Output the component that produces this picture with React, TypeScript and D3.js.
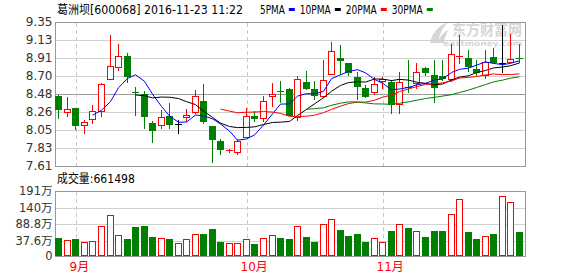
import React from "react";
import * as d3 from "d3";

// 葛洲坝 daily K-line, 2016-08-30 .. 2016-11-23
const STOCK_NAME = "葛洲坝";
const STOCK_CODE = "600068";
const TIMESTAMP = "2016-11-23 11:22";

const OPEN = [
  8.46, 8.26, 8.31, 8.10, 8.18, 8.28, 8.66, 8.81, 8.94, 8.51,
  8.48, 8.13, 8.10, 8.21, 8.12, 8.20, 8.26, 8.40, 8.09, 7.91,
  7.79, 7.78, 7.96, 8.22, 8.19, 8.46, 8.52, 8.54, 8.20, 8.63,
  8.54, 8.46, 8.72, 8.92, 8.86, 8.69, 8.55, 8.51, 8.64, 8.62,
  8.36, 8.57, 8.61, 8.80, 8.71, 8.70, 8.66, 8.93, 8.92, 8.78,
  8.71, 8.93, 8.86, 8.87, 8.92,
];
const HIGH = [
  8.47, 8.44, 8.31, 8.17, 8.35, 8.61, 9.19, 9.08, 8.98, 8.57,
  8.52, 8.15, 8.29, 8.37, 8.16, 8.30, 8.53, 8.60, 8.09, 7.94,
  7.81, 7.94, 8.31, 8.28, 8.45, 8.61, 8.64, 8.55, 8.70, 8.76,
  8.64, 8.89, 9.11, 9.07, 8.86, 8.75, 8.59, 8.68, 8.68, 8.65,
  8.74, 8.89, 8.85, 8.81, 8.89, 8.89, 9.08, 9.19, 9.01, 8.89,
  9.01, 9.04, 9.31, 9.21, 9.08,
];
const LOW = [
  8.19, 8.21, 8.06, 8.01, 8.13, 8.21, 8.66, 8.77, 8.62, 8.23,
  8.07, 7.90, 8.07, 8.07, 8.01, 8.15, 8.25, 8.13, 7.66, 7.75,
  7.78, 7.76, 7.96, 8.15, 8.15, 8.34, 8.38, 8.23, 8.17, 8.54,
  8.42, 8.44, 8.72, 8.72, 8.71, 8.42, 8.44, 8.48, 8.55, 8.25,
  8.25, 8.51, 8.55, 8.71, 8.38, 8.65, 8.64, 8.85, 8.76, 8.71,
  8.67, 8.86, 8.74, 8.87, 8.87,
];
const CLOSE = [
  8.30, 8.30, 8.10, 8.14, 8.28, 8.60, 8.82, 8.94, 8.70, 8.50,
  8.21, 8.04, 8.20, 8.12, 8.12, 8.23, 8.46, 8.15, 7.94, 7.81,
  7.80, 7.91, 8.22, 8.19, 8.40, 8.48, 8.50, 8.23, 8.66, 8.55,
  8.47, 8.65, 9.00, 8.89, 8.75, 8.58, 8.46, 8.60, 8.66, 8.36,
  8.62, 8.56, 8.75, 8.75, 8.57, 8.67, 8.96, 8.94, 8.82, 8.75,
  8.87, 8.87, 8.86, 8.90, 8.91,
];
// volume in 万股
const VOLUME = [
  46.7, 39.6, 43.6, 34.4, 37.5, 82.6, 116.4, 55.0, 43.6, 80.5,
  83.6, 49.8, 45.8, 43.6, 31.3, 42.7, 58.1, 59.0, 74.3, 35.3,
  30.4, 30.4, 42.7, 28.3, 45.8, 55.0, 46.7, 43.6, 82.6, 49.8,
  35.3, 88.8, 104.1, 71.3, 52.8, 59.0, 35.3, 45.8, 34.4, 68.2,
  88.8, 77.4, 67.3, 49.8, 68.2, 68.2, 119.5, 165.6, 65.1, 43.6,
  51.9, 59.0, 174.8, 156.4, 66.1498,
];

const MONTH_LABELS = ["9月", "10月", "11月"];
const MONTH_START = [2, 22, 38];

const PRICE_TICKS = [9.35, 9.1325, 8.915, 8.6975, 8.48, 8.2625, 8.045, 7.8275, 7.61];
const PRICE_TICK_LABELS = ["9.35", "9.13", "8.91", "8.70", "8.48", "8.26", "8.05", "7.83", "7.61"];
const VOLUME_TICKS = [191.2, 140, 88.8, 37.6];
const VOLUME_TICK_LABELS = ["191万", "140万", "88.8万", "37.6万"];

const MA_PERIODS = [5, 10, 20, 30];
const MA_LABELS = ["5PMA", "10PMA", "20PMA", "30PMA"];
const MA_COLORS = ["#0000ff", "#000000", "#ff0000", "#008000"];

const W = 578;
const H = 276;
const LEFT = 55;
const RIGHT = 525;
const PRICE_TOP = 22;
const PRICE_BOTTOM = 166;
const VOL_TOP = 191;
const VOL_BOTTOM = 256;
const VOL_ZERO = 253.2;

const UP = "#ff0000";
const DOWN = "#008000";
const GRID = "#d0d0d0";
const FRAME = "#999999";
const FONT = "'DejaVu Sans', 'Noto Sans CJK SC', sans-serif";

function movingAverage(values: number[], period: number): (number | null)[] {
  return values.map((_, i) =>
    i < period - 1 ? null : (d3.mean(values.slice(i - period + 1, i + 1)) as number)
  );
}

export default function App() {
  const n = CLOSE.length;
  const idx = d3.range(n);

  const x = d3.scaleBand<number>().domain(idx).range([54.5, 523.5]).paddingInner(0.2).paddingOuter(0.1);
  const yPrice = d3.scaleLinear().domain([7.61, 9.35]).range([PRICE_BOTTOM, PRICE_TOP]);
  const yVol = d3.scaleLinear().domain([0, 191.2]).range([VOL_ZERO, VOL_TOP]);

  const left = (i: number) => Math.round(x(i) as number);
  const cx = (i: number) => left(i) + 3.5;
  const BW = 7;

  const crisp = (v: number) => Math.round(v) + 0.5;

  const maLines = MA_PERIODS.map((p) => {
    const ma = movingAverage(CLOSE, p);
    const line = d3
      .line<number>()
      .defined((i) => ma[i] != null)
      .x((i) => cx(i))
      .y((i) => yPrice(ma[i] as number));
    return line(idx) || "";
  });

  // legend layout
  const legendItems: { label: string; color: string; tx: number; sx: number }[] = [];
  let lx = 260;
  MA_LABELS.forEach((label, k) => {
    const tw = label.length * 6.2;
    legendItems.push({ label, color: MA_COLORS[k], tx: lx, sx: lx + tw + 4 });
    lx = lx + tw + 4 + 6 + 5;
  });

  const lastVolume = Math.round(VOLUME[n - 1] * 10000);

  return (
    <svg
      width={W}
      height={H}
      viewBox={`0 0 ${W} ${H}`}
      style={{ position: "absolute", left: 0, top: 0, display: "block", background: "#fff" }}
      fontFamily={FONT}
    >
      <rect x={0} y={0} width={W} height={H} fill="#fff" />

      {/* watermark */}
      <g fill="#d6d6d6">
        <path d="M430,43 C432,33 438,26 448,22 C442,29 439,35 438,43 Z" />
        <path d="M437,43 C440,36 444,32 449,29 C446,34 444,39 444,43 Z" />
        <text x={452} y={35} fontSize={14.5} fontWeight="bold" textLength={70} lengthAdjust="spacingAndGlyphs">
          东方财富网
        </text>
        <text x={443} y={46} fontSize={7.5} fontWeight="bold" textLength={79} lengthAdjust="spacingAndGlyphs">
          eastmoney.com
        </text>
      </g>

      {/* title and legend */}
      <text x={57} y={14} fontSize={12} fill="#000" textLength={186} lengthAdjust="spacingAndGlyphs">
        {`${STOCK_NAME}[${STOCK_CODE}] ${TIMESTAMP}`}
      </text>
      {legendItems.map((it) => (
        <g key={it.label}>
          <text x={it.tx} y={14} fontSize={12} fill="#000" textLength={it.label.length * 6.2} lengthAdjust="spacingAndGlyphs">
            {it.label}
          </text>
          <rect x={it.sx} y={8} width={6} height={3} fill={it.color} />
        </g>
      ))}

      {/* price grid */}
      {PRICE_TICKS.map((t, k) => {
        const y = crisp(yPrice(t));
        const isEdge = k === 0 || k === PRICE_TICKS.length - 1;
        const isMid = k === 4;
        return (
          <line
            key={`pg${k}`}
            x1={LEFT}
            x2={RIGHT}
            y1={y}
            y2={y}
            stroke={isEdge || isMid ? FRAME : GRID}
            strokeWidth={1}
          />
        );
      })}
      {PRICE_TICKS.map((t, k) => (
        <text
          key={`pl${k}`}
          x={52.5}
          y={yPrice(t)}
          dy="0.36em"
          textAnchor="end"
          fontSize={12}
          fill="#333"
        >
          {PRICE_TICK_LABELS[k]}
        </text>
      ))}

      {/* volume grid */}
      {VOLUME_TICKS.map((t, k) => (
        <line
          key={`vg${k}`}
          x1={LEFT}
          x2={RIGHT}
          y1={crisp(yVol(t))}
          y2={crisp(yVol(t))}
          stroke={k === 0 ? FRAME : GRID}
        />
      ))}
      <line x1={LEFT} x2={RIGHT} y1={VOL_BOTTOM + 0.5} y2={VOL_BOTTOM + 0.5} stroke={FRAME} />
      {VOLUME_TICKS.map((t, k) => (
        <text key={`vl${k}`} x={52.5} y={yVol(t)} dy="0.36em" textAnchor="end" fontSize={11.5} fill="#333">
          {VOLUME_TICK_LABELS[k]}
        </text>
      ))}
      <text x={52.5} y={VOL_BOTTOM} dy="0.36em" textAnchor="end" fontSize={11.5} fill="#333">
        0
      </text>

      {/* month separators */}
      {MONTH_START.map((i, k) => (
        <g key={`m${k}`} stroke="#c8c8c8" strokeDasharray="4,3">
          <line x1={crisp(cx(i))} x2={crisp(cx(i))} y1={PRICE_TOP + 1} y2={PRICE_BOTTOM} />
          <line x1={crisp(cx(i))} x2={crisp(cx(i))} y1={VOL_TOP + 1} y2={VOL_BOTTOM} />
        </g>
      ))}
      {MONTH_START.map((i, k) => (
        <text key={`ml${k}`} x={cx(i) - 6} y={271} fontSize={12} fill="#ff0000">
          {MONTH_LABELS[k]}
        </text>
      ))}

      {/* frames */}
      <line x1={LEFT + 0.5} x2={LEFT + 0.5} y1={PRICE_TOP} y2={PRICE_BOTTOM + 1} stroke={FRAME} />
      <line x1={RIGHT + 0.5} x2={RIGHT + 0.5} y1={PRICE_TOP} y2={PRICE_BOTTOM + 1} stroke={FRAME} />
      <line x1={LEFT + 0.5} x2={LEFT + 0.5} y1={VOL_TOP} y2={VOL_BOTTOM + 1} stroke={FRAME} />
      <line x1={RIGHT + 0.5} x2={RIGHT + 0.5} y1={VOL_TOP} y2={VOL_BOTTOM + 1} stroke={FRAME} />

      {/* candles */}
      {idx.map((i) => {
        const o = OPEN[i];
        const c = CLOSE[i];
        const color = c > o ? UP : c < o ? DOWN : "#000";
        const xl = left(i);
        const wx = xl + 3.5;
        const yHi = Math.round(yPrice(HIGH[i]));
        const yLo = Math.round(yPrice(LOW[i]));
        const yTop = Math.round(yPrice(Math.max(o, c)));
        const yBot = Math.round(yPrice(Math.min(o, c)));
        const wick = <line x1={wx} x2={wx} y1={yHi} y2={yLo + 1} stroke={color} />;
        if (c === o || yBot - yTop < 2) {
          return (
            <g key={`c${i}`}>
              {wick}
              <line x1={xl} x2={xl + BW} y1={yTop + 0.5} y2={yTop + 0.5} stroke={color} />
            </g>
          );
        }
        if (c > o) {
          return (
            <g key={`c${i}`}>
              {wick}
              <rect x={xl + 0.5} y={yTop + 0.5} width={BW - 1} height={yBot - yTop} fill="#fff" stroke={UP} />
            </g>
          );
        }
        return (
          <g key={`c${i}`}>
            {wick}
            <rect x={xl} y={yTop} width={BW} height={yBot - yTop + 1} fill={DOWN} />
          </g>
        );
      })}

      {/* moving averages */}
      {maLines.map((d, k) => (
        <path key={`ma${k}`} d={d} fill="none" stroke={MA_COLORS[k]} strokeWidth={1} />
      ))}

      {/* volume bars */}
      {idx.map((i) => {
        const up = CLOSE[i] >= OPEN[i];
        const xl = left(i);
        const yv = Math.round(yVol(VOLUME[i]));
        if (up) {
          return (
            <rect key={`v${i}`} x={xl + 0.5} y={yv + 0.5} width={BW - 1} height={VOL_BOTTOM - yv - 1} fill="#fff" stroke={UP} />
          );
        }
        return <rect key={`v${i}`} x={xl} y={yv} width={BW} height={VOL_BOTTOM - yv} fill={DOWN} />;
      })}

      <text x={57} y={183} fontSize={12} fill="#000" textLength={78} lengthAdjust="spacingAndGlyphs">
        {`成交量:${lastVolume}`}
      </text>
    </svg>
  );
}
